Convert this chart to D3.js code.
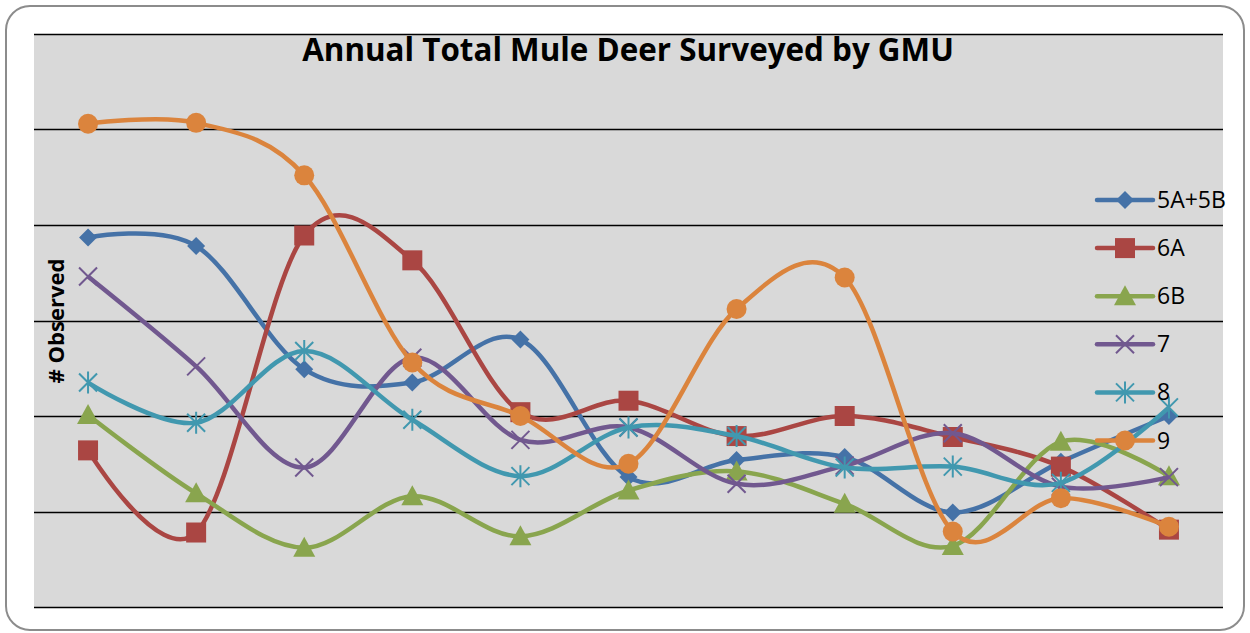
<!DOCTYPE html>
<html>
<head>
<meta charset="utf-8">
<script src="https://cdn.jsdelivr.net/npm/d3@7"></script>
<style>
  body { margin: 0; background: #fff; }
  svg { display: block; }
</style>
</head>
<body>
<div id="chart"></div>
<script>
// survey years (not labelled on the chart)
const years = ['Y1', 'Y2', 'Y3', 'Y4', 'Y5', 'Y6', 'Y7', 'Y8', 'Y9', 'Y10', 'Y11'];
const seriesNames = ['5A+5B', '6A', '6B', '7', '8', '9'];

const gmu5A5B = [387, 378, 249, 235, 280, 136, 154, 157, 99, 152, 200];
const gmu6A   = [164, 78, 389, 363, 204, 216, 179, 200, 178, 147, 81];
const gmu6B   = [201, 119, 62, 116, 74, 122, 142, 108, 64, 173, 137];
const gmu7    = [346, 252, 146, 261, 175, 188, 129, 148, 182, 126, 136];
const gmu8    = [235, 193, 268, 196, 137, 188, 179, 146, 147, 130, 209];
const gmu9    = [506, 507, 452, 256, 200, 150, 312, 345, 79, 114, 84];

const yTicks = [0, 100, 200, 300, 400, 500, 600];

document.addEventListener('DOMContentLoaded', () => {

  const width = 1250;
  const height = 633;
  const plot = { left: 34, top: 34, right: 1223, bottom: 607 };

  const colors = ['#4572A7', '#AA4643', '#89A54E', '#71588F', '#4198AF', '#DB843D'];
  const markers = ['diamond', 'square', 'triangle', 'x', 'star', 'circle'];
  const allValues = [gmu5A5B, gmu6A, gmu6B, gmu7, gmu8, gmu9];

  const series = seriesNames.map((name, i) => ({
    name: name,
    color: colors[i],
    marker: markers[i],
    values: allValues[i]
  }));

  const svg = d3.select('#chart')
                .append('svg')
                .attr('width', width)
                .attr('height', height);

  // outer chart frame
  svg.append('rect')
     .attr('x', 6)
     .attr('y', 6)
     .attr('width', 1238)
     .attr('height', 624)
     .attr('rx', 24)
     .attr('fill', '#fff')
     .attr('stroke', '#8c8c8c')
     .attr('stroke-width', 2);

  const x = d3.scaleBand()
              .domain(years)
              .range([plot.left, plot.right]);

  const y = d3.scaleLinear()
              .domain([0, 600])
              .range([plot.bottom, plot.top]);

  svg.append('rect')
     .attr('x', plot.left)
     .attr('y', plot.top)
     .attr('width', plot.right - plot.left)
     .attr('height', plot.bottom - plot.top)
     .attr('fill', '#d9d9d9');

  svg.append('g')
     .selectAll('line')
     .data(yTicks)
     .enter()
     .append('line')
     .attr('x1', plot.left)
     .attr('x2', plot.right)
     .attr('y1', (d) => Math.round(y(d)) + 0.5)
     .attr('y2', (d) => Math.round(y(d)) + 0.5)
     .attr('stroke', '#000')
     .attr('stroke-width', 1.6);

  const cx = (i) => x(years[i]) + x.bandwidth() / 2;

  const markerPath = (type) => {
    switch (type) {
      case 'diamond':
        return 'M0,-9L9,0L0,9L-9,0Z';
      case 'square':
        return 'M-10,-10H10V10H-10Z';
      case 'triangle':
        return 'M0,-11L11,9H-11Z';
      case 'circle':
        return 'M10,0A10,10 0 1,1 -10,0A10,10 0 1,1 10,0Z';
      case 'x':
        return 'M-9,-9L9,9M9,-9L-9,9';
      case 'star':
        return 'M-9,-9L9,9M9,-9L-9,9M0,-11V11';
    }
  };

  const drawMarker = (g, type, color) => {
    const stroked = type === 'x' || type === 'star';
    g.append('path')
     .attr('d', markerPath(type))
     .attr('fill', stroked ? 'none' : color)
     .attr('stroke', color)
     .attr('stroke-width', stroked ? 2 : 0);
  };

  const line = d3.line()
                 .x((d, i) => cx(i))
                 .y((d) => y(d))
                 .curve(d3.curveCardinal.tension(0));

  series.forEach((s) => {
    const g = svg.append('g');
    g.append('path')
     .attr('d', line(s.values))
     .attr('fill', 'none')
     .attr('stroke', s.color)
     .attr('stroke-width', 4.5)
     .attr('stroke-linejoin', 'round');

    s.values.forEach((v, i) => {
      const m = g.append('g')
                 .attr('transform', 'translate(' + cx(i) + ',' + y(v) + ')');
      drawMarker(m, s.marker, s.color);
    });
  });

  // title, fitted to the reference width
  const title = svg.append('text')
                   .attr('x', 628)
                   .attr('y', 61)
                   .attr('text-anchor', 'middle')
                   .style('font-family', '"Open Sans", "DejaVu Sans", sans-serif')
                   .style('font-weight', 'bold')
                   .style('font-size', '30px')
                   .text('Annual Total Mule Deer Surveyed by GMU');
  const tw = title.node().getComputedTextLength();
  title.style('font-size', (30 * 652 / tw) + 'px');

  const yTitle = svg.append('text')
                    .attr('transform', 'translate(64, 321) rotate(-90)')
                    .attr('text-anchor', 'middle')
                    .style('font-family', '"Open Sans", "DejaVu Sans", sans-serif')
                    .style('font-weight', 'bold')
                    .style('font-size', '20px')
                    .text('# Observed');
  const yw = yTitle.node().getComputedTextLength();
  yTitle.style('font-size', (20 * 125 / yw) + 'px');

  const legend = svg.append('g');
  const legendItem = legend.selectAll('g')
                           .data(series)
                           .enter()
                           .append('g')
                           .attr('transform', (d, i) => 'translate(1125,' + (200 + i * 48.1) + ')');

  legendItem.append('line')
            .attr('x1', -28)
            .attr('x2', 28)
            .attr('stroke', (d) => d.color)
            .attr('stroke-width', 4.5)
            .attr('stroke-linecap', 'round');

  legendItem.each(function (d) {
    drawMarker(d3.select(this), d.marker, d.color);
  });

  legendItem.append('text')
            .attr('x', 32)
            .attr('y', 8)
            .style('font-family', '"Open Sans", "DejaVu Sans", sans-serif')
            .style('font-size', '23px')
            .text((d) => d.name);

});
</script>
</body>
</html>
